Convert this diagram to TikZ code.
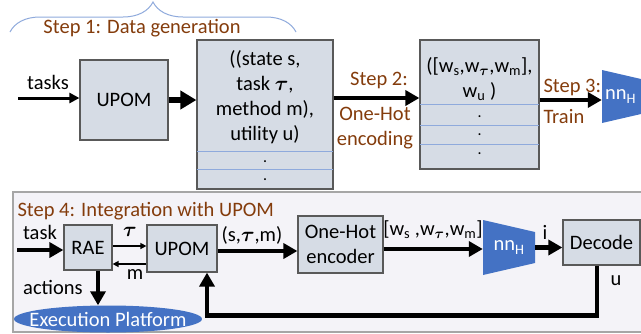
\documentclass[tikz,border=0pt]{standalone}
\usepackage{amsmath}
\usepackage{fontspec}
\setmainfont{Carlito}
\usetikzlibrary{positioning,arrows.meta,decorations.pathreplacing}
\definecolor{stepbrown}{HTML}{843C0C}
\definecolor{boxfill}{HTML}{D6DCE5}
\definecolor{boxline}{HTML}{595959}
\definecolor{rowblue}{HTML}{8FAADC}
\definecolor{nnblue}{HTML}{4472C4}
\definecolor{panelfill}{HTML}{F4F3F8}
\definecolor{panelline}{HTML}{A6A6A6}

\begin{document}
\begin{tikzpicture}[x=1pt, y=-1pt,
    font=\fontsize{20.5}{25}\selectfont,
    block/.style={draw=boxline, line width=1.2pt, fill=boxfill, inner sep=2pt},
    steplabel/.style={text=stepbrown},
    rowline/.style={draw=rowblue, line width=1.2pt},
    rowdot/.style={anchor=base, inner sep=0pt, font=\fontsize{13}{13}\bfseries},
    flow/.style={line width=4.5pt, -{Triangle[length=14pt,width=15pt]}},
    bigflow/.style={line width=6.5pt, -{Triangle[length=16pt,width=18pt]}},
    slimflow/.style={line width=3pt, -{Triangle[length=10pt,width=10pt]}},
    thinflow/.style={line width=1.4pt, -{Triangle[length=6pt,width=6pt]}},
    nnbox/.style={minimum width=52pt, minimum height=55pt, inner sep=0pt, text=white,
      path picture={\fill[nnblue] (path picture bounding box.north west)
        -- ([yshift=-12pt]path picture bounding box.north east)
        -- ([yshift=12pt]path picture bounding box.south east)
        -- (path picture bounding box.south west) -- cycle;}},
    platform/.style={minimum width=188pt, minimum height=27pt, inner sep=0pt, text=white,
      path picture={\fill[nnblue] (path picture bounding box.center)
        ellipse [x radius=94pt, y radius=13.5pt];}},
  ]
\useasboundingbox (0,0) rectangle (641,333);

\draw[rowblue, line width=1pt, decorate, decoration={brace, amplitude=30pt}]
  (10,32) -- (296,32);
\node[steplabel] (step1) at (142,28) {Step 1: Data generation};

\node[block, minimum width=88pt, minimum height=80pt] (upom) at (124,100) {UPOM};
\coordinate (tasksin) at (18,98);
\draw[slimflow] (tasksin) -- (tasksin -| upom.west);
\node (tasks) at (48,82) {tasks};

\node[block, minimum width=136pt, minimum height=149pt] (data) at (265,114.5) {};
\node[align=center, inner sep=0pt] (datatext) at ([yshift=-57.5pt]data.north)
  {((state s,\\ task $\boldsymbol{\tau}$,\\ method m),\\ utility u)};
\draw[rowline] ([yshift=-112pt, xshift=1pt]data.north west) --
  ([yshift=-112pt, xshift=-1pt]data.north east);
\draw[rowline] ([yshift=-130pt, xshift=1pt]data.north west) --
  ([yshift=-130pt, xshift=-1pt]data.north east);
\node[rowdot] (datadot1) at ([yshift=-123pt]data.north) {.};
\node[rowdot] (datadot2) at ([yshift=-141pt]data.north) {.};
\draw[bigflow] (upom.east) -- (upom.east -| data.west);

\node[block, minimum width=119pt, minimum height=129pt] (code) at (479.5,104.5) {};
\node[align=center, inner sep=0pt] (codetext) at ([yshift=-40pt]code.north)
  {([w\textsubscript{s},w\textsubscript{$\boldsymbol{\tau}$},w\textsubscript{m}],\\ w\textsubscript{u} )};
\draw[rowline] ([yshift=-65pt, xshift=1pt]code.north west) --
  ([yshift=-65pt, xshift=-1pt]code.north east);
\draw[rowline] ([yshift=-86pt, xshift=1pt]code.north west) --
  ([yshift=-86pt, xshift=-1pt]code.north east);
\draw[rowline] ([yshift=-105pt, xshift=1pt]code.north west) --
  ([yshift=-105pt, xshift=-1pt]code.north east);
\node[rowdot] (codedot1) at ([yshift=-78pt]code.north) {.};
\node[rowdot] (codedot2) at ([yshift=-96pt]code.north) {.};
\node[rowdot] (codedot3) at ([yshift=-115pt]code.north) {.};
\draw[flow] ([yshift=16.5pt]data.east) -- ([yshift=16.5pt]data.east -| code.west);
\node[steplabel] (step2) at (379,80) {Step 2:};
\node[steplabel, align=center] (step2b) at (375,128) {One-Hot\\encoding};

\node[nnbox, minimum height=53pt, text width=46pt, align=left] (nntop) at (628,96.5) {nn\textsubscript{H}};
\draw[flow] ([yshift=4.5pt]code.east) -- ([yshift=4.5pt]code.east -| nntop.west);
\node[steplabel, anchor=west] (step3) at (540,87) {Step 3:};
\node[steplabel, anchor=west] (step3b) at (540,117) {Train};

\draw[fill=panelfill, draw=panelline, line width=1.5pt] (13,192) rectangle (680,332);
\node[steplabel, anchor=west] (step4) at (14,211) {Step 4: Integration with UPOM};

\node[block, minimum width=48pt, minimum height=45pt] (rae) at (88,247.5) {RAE};
\node[block, minimum width=70pt, minimum height=47pt] (upomb) at (182,248.5) {UPOM};
\node[block, minimum width=85pt, minimum height=57pt, align=center] (enc) at (340.5,244.5) {One-Hot\\encoder};
\node[nnbox] (nnb) at (509,247.5) {nn\textsubscript{H}};
\node[block, minimum width=77pt, minimum height=45pt] (dec) at (601.5,242.5) {Decode};
\node[platform] (exec) at (108,319) {Execution Platform};

\coordinate (taskin) at (17,250);
\draw[flow] (taskin) -- (taskin -| rae.west);
\node (task) at (40,232) {task};
\draw[thinflow] ([yshift=1.5pt]rae.east) -- ([yshift=1.5pt]rae.east -| upomb.west);
\node (taulbl) at (130,232) {$\boldsymbol{\tau}$};
\draw[thinflow] ([yshift=-16.5pt]rae.east -| upomb.west) -- ([yshift=-16.5pt]rae.east);
\node (mlbl) at (135,275) {m};
\draw[flow] ([xshift=10pt]rae.south) -- ([xshift=10pt]rae.south |- exec.north);
\node (actions) at (53,287) {actions};
\draw[flow] ([yshift=-2.5pt]upomb.east) -- ([yshift=-2.5pt]upomb.east -| enc.west);
\node (stmlbl) at (252,235) {(s,$\boldsymbol{\tau}$,m)};
\draw[flow] ([yshift=-4.5pt]enc.east) -- ([yshift=-4.5pt]enc.east -| nnb.west);
\node (wlbl) at (433,230) {[w\textsubscript{s} ,w\textsubscript{$\boldsymbol{\tau}$},w\textsubscript{m}]};
\draw[flow] (nnb.east) -- (nnb.east -| dec.west);
\node (ilbl) at (545,232) {i};
\draw[flow] ([xshift=-4.5pt]dec.south) -- ++(0,50) -| ([xshift=25pt]upomb.south);
\node (ulbl) at (616,281) {u};
\end{tikzpicture}
\end{document}
